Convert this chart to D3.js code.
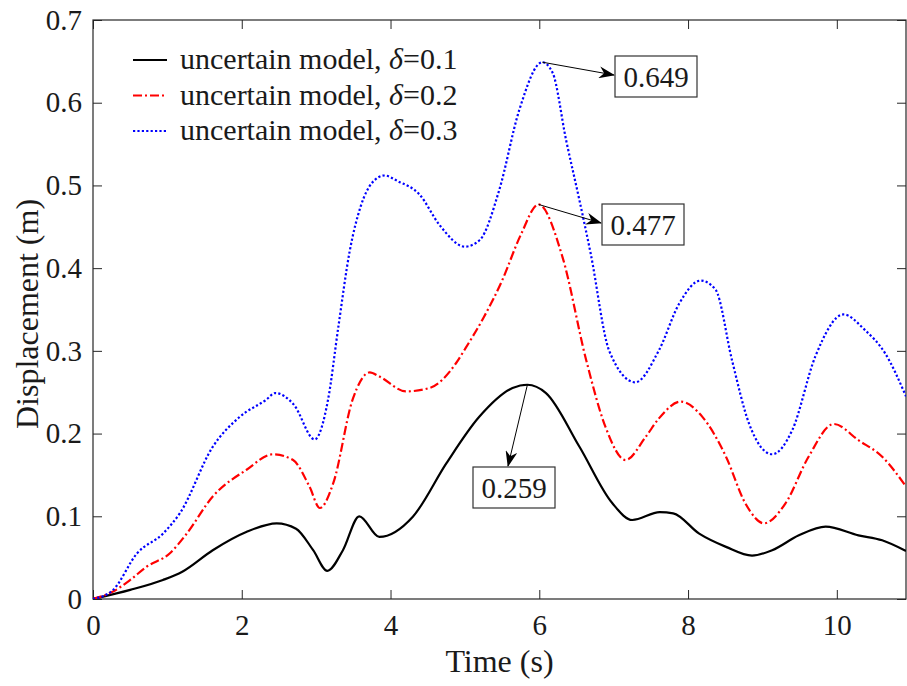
<!DOCTYPE html>
<html>
<head>
<meta charset="utf-8">
<script src="https://cdn.jsdelivr.net/npm/d3@7"></script>
<style>
  body { margin: 0; background: #fff; }
  text { font-family: "Liberation Serif", "Times New Roman", serif; fill: #1a1a1a; }
</style>
</head>
<body>
<script>
// values: time (s) and displacement (m)
var t1 = [0, 0.5, 0.94, 1.2, 1.61, 2.06, 2.47, 2.73, 2.96, 3.15, 3.36, 3.58, 3.85, 4.3, 4.75, 5.19, 5.64, 5.84, 6.09, 6.54, 6.98, 7.25, 7.62, 7.8, 8.15, 8.51, 8.86, 9.13, 9.49, 9.85, 10.29, 10.61, 10.93]
var v1 = [0, 0.011, 0.023, 0.033, 0.059, 0.081, 0.0915, 0.085, 0.059, 0.034, 0.059, 0.100, 0.075, 0.0995, 0.164, 0.220, 0.255, 0.259, 0.249, 0.184, 0.116, 0.0955, 0.105, 0.1036, 0.079, 0.063, 0.0524, 0.059, 0.077, 0.0875, 0.077, 0.071, 0.058]

var t2 = [0, 0.27, 0.5, 0.72, 1.03, 1.26, 1.61, 2.06, 2.42, 2.69, 2.91, 3.05, 3.23, 3.49, 3.72, 3.85, 4.21, 4.52, 4.88, 5.0, 5.25, 5.5, 5.75, 5.99, 6.31, 6.63, 6.89, 7.16, 7.43, 7.61, 7.9, 8.19, 8.51, 8.77, 9.02, 9.31, 9.62, 9.96, 10.29, 10.61, 10.93]
var v2 = [0, 0.009, 0.023, 0.039, 0.055, 0.079, 0.124, 0.156, 0.175, 0.168, 0.136, 0.110, 0.140, 0.241, 0.274, 0.269, 0.251, 0.255, 0.285, 0.302, 0.34, 0.385, 0.44, 0.477, 0.414, 0.289, 0.208, 0.168, 0.196, 0.2185, 0.2386, 0.2205, 0.172, 0.1157, 0.0915, 0.1157, 0.172, 0.2116, 0.192, 0.172, 0.136]

var t3 = [0, 0.27, 0.59, 0.94, 1.17, 1.61, 1.97, 2.33, 2.45, 2.7, 2.98, 3.16, 3.3, 3.45, 3.6, 3.75, 3.92, 4.1, 4.39, 4.66, 5.0, 5.2, 5.46, 5.73, 6.04, 6.18, 6.36, 6.54, 6.69, 6.94, 7.29, 7.61, 7.88, 8.17, 8.37, 8.59, 8.82, 9.13, 9.4, 9.71, 10.09, 10.38, 10.65, 10.93]
var v3 = [0, 0.011, 0.055, 0.079, 0.104, 0.184, 0.220, 0.241, 0.249, 0.235, 0.193, 0.241, 0.33, 0.42, 0.475, 0.503, 0.512, 0.505, 0.489, 0.452, 0.426, 0.434, 0.494, 0.591, 0.649, 0.636, 0.555, 0.482, 0.418, 0.30, 0.262, 0.301, 0.357, 0.385, 0.374, 0.289, 0.212, 0.175, 0.204, 0.293, 0.344, 0.325, 0.297, 0.245]

var seriesNames = ["0.1", "0.2", "0.3"]
var xTicks = [0, 2, 4, 6, 8, 10]
var yTicks = [0, 0.1, 0.2, 0.3, 0.4, 0.5, 0.6, 0.7]
var peakTimes = [5.84, 5.99, 6.04]
var peakLabels = ["0.259", "0.477", "0.649"]

var W = 907, H = 686
var pL = 93, pR = 906, pT = 20, pB = 599

var svg = d3.select("body").append("svg")
    .attr("width", W).attr("height", H)

var x = d3.scaleLinear().domain([0, 10.93]).range([pL, pR])
var y = d3.scaleLinear().domain([0, 0.7]).range([pB, pT])

var defs = svg.append("defs")
defs.append("marker")
    .attr("id", "arr").attr("viewBox", "0 0 16 12")
    .attr("refX", 15).attr("refY", 6)
    .attr("markerWidth", 16).attr("markerHeight", 12)
    .attr("markerUnits", "userSpaceOnUse")
    .attr("orient", "auto")
  .append("path").attr("d", "M0,0 L16,6 L0,12 L5,6 Z").attr("fill", "#000")

defs.append("clipPath").attr("id", "plot")
  .append("rect").attr("x", pL).attr("y", pT).attr("width", pR - pL).attr("height", pB - pT)

// axes with inward ticks on all sides
var axisCol = "#262626"
function style(g) {
  g.select(".domain").remove()
  g.selectAll("line").attr("stroke", axisCol)
  g.selectAll("text").attr("font-size", 29).attr("font-family", "Liberation Serif").attr("fill", "#1a1a1a")
}
svg.append("g").attr("transform", "translate(0," + pB + ")")
  .call(d3.axisBottom(x).tickValues(xTicks).tickSize(-9).tickPadding(15).tickFormat(d3.format("d")))
  .call(style)
svg.append("g").attr("transform", "translate(0," + pT + ")")
  .call(d3.axisTop(x).tickValues(xTicks).tickSize(-9).tickFormat(""))
  .call(style)
svg.append("g").attr("transform", "translate(" + pL + ",0)")
  .call(d3.axisLeft(y).tickValues(yTicks).tickSize(-9).tickPadding(11).tickFormat(function(d) { return d === 0 ? "0" : d3.format(".1f")(d) }))
  .call(style)
svg.append("g").attr("transform", "translate(" + pR + ",0)")
  .call(d3.axisRight(y).tickValues(yTicks).tickSize(-9).tickFormat(""))
  .call(style)

svg.append("rect").attr("x", pL).attr("y", pT).attr("width", pR - pL).attr("height", pB - pT)
  .attr("fill", "none").attr("stroke", axisCol).attr("stroke-width", 1.2)

svg.append("text").attr("x", (pL + pR) / 2).attr("y", 672)
  .attr("text-anchor", "middle").attr("font-size", 32).text("Time (s)")
svg.append("text").attr("transform", "translate(38,314) rotate(-90)")
  .attr("text-anchor", "middle").attr("font-size", 32).text("Displacement (m)")

// curves
var series = [
  { t: t1, v: v1, color: "#000000", dash: null },
  { t: t2, v: v2, color: "#ff0000", dash: "9,3,2,3" },
  { t: t3, v: v3, color: "#0000ff", dash: "2.2,2.2" }
]
var line = d3.line()
    .x(function(d) { return x(d[0]) })
    .y(function(d) { return y(d[1]) })
    .curve(d3.curveMonotoneX)

var gl = svg.append("g").attr("clip-path", "url(#plot)")
series.forEach(function(s) {
  gl.append("path")
    .datum(d3.zip(s.t, s.v))
    .attr("d", line)
    .attr("fill", "none")
    .attr("stroke", s.color)
    .attr("stroke-width", 2.2)
    .attr("stroke-dasharray", s.dash)
})

// legend
var leg = svg.append("g")
series.forEach(function(s, i) {
  var ly = 60 + i * 35.5
  leg.append("line").attr("x1", 133).attr("x2", 167).attr("y1", ly).attr("y2", ly)
    .attr("stroke", s.color).attr("stroke-width", 2.2).attr("stroke-dasharray", s.dash)
  var tx = leg.append("text").attr("x", 180).attr("y", ly + 9).attr("font-size", 30)
  tx.append("tspan").text("uncertain model, ")
  tx.append("tspan").attr("font-style", "italic").text("\u03b4")
  tx.append("tspan").text("=" + seriesNames[i])
})

// peak annotations
var boxes = [
  { bx: 473, by: 467, arrowTo: [508, 466] },
  { bx: 602, by: 204, arrowTo: [601, 223] },
  { bx: 615, by: 56, arrowTo: [614, 75] }
]
boxes.forEach(function(b, i) {
  var px = x(peakTimes[i]), py = y(+peakLabels[i])
  svg.append("line").attr("x1", px).attr("y1", py).attr("x2", b.arrowTo[0]).attr("y2", b.arrowTo[1])
    .attr("stroke", "#000").attr("stroke-width", 1).attr("marker-end", "url(#arr)")
  svg.append("rect").attr("x", b.bx).attr("y", b.by).attr("width", 82).attr("height", 41)
    .attr("fill", "#fff").attr("stroke", "#333").attr("stroke-width", 1.2)
  svg.append("text").attr("x", b.bx + 41).attr("y", b.by + 31).attr("text-anchor", "middle")
    .attr("font-size", 29).text(peakLabels[i])
})
</script>
</body>
</html>
